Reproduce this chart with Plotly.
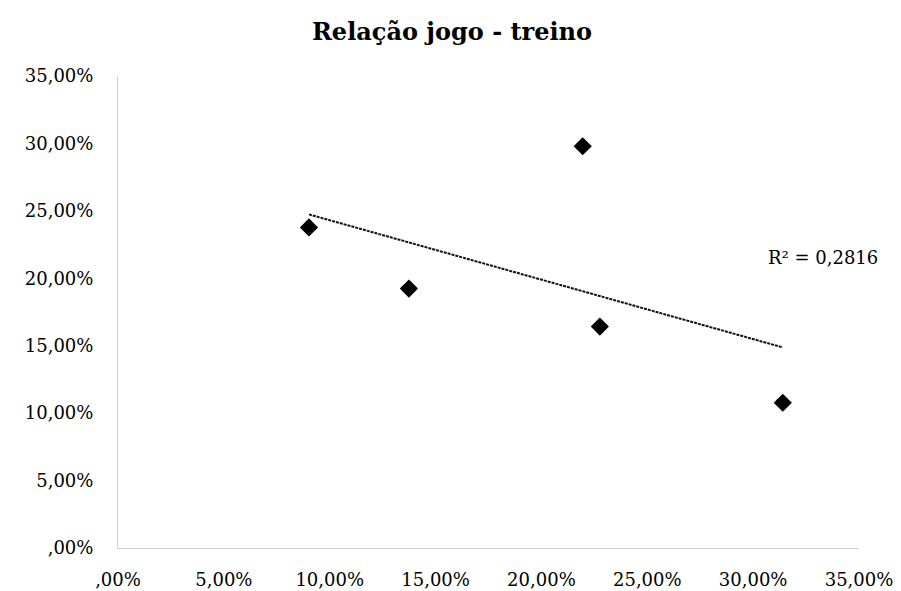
import numpy as np
import plotly.graph_objects as go

x_vals = [9.02, 13.74, 21.95, 22.76, 31.40]
y_vals = [23.77, 19.24, 29.79, 16.42, 10.77]
tick_vals = [0, 5, 10, 15, 20, 25, 30, 35]
tick_text = [",00%", "5,00%", "10,00%", "15,00%", "20,00%", "25,00%", "30,00%", "35,00%"]
title_text = "Relação jogo - treino"
r2_text = "R² = 0,2816"

FONT = "DejaVu Serif"

slope, intercept = np.polyfit(x_vals, y_vals, 1)
tx = [min(x_vals), max(x_vals)]
ty = [slope * v + intercept for v in tx]

fig = go.Figure()
fig.add_trace(go.Scatter(x=tx, y=ty, mode="lines",
                         line=dict(color="#111111", width=2, dash="3px,1px"),
                         showlegend=False, hoverinfo="skip"))
fig.add_trace(go.Scatter(x=x_vals, y=y_vals, mode="markers",
                         marker=dict(symbol="diamond", size=14, color="black"),
                         showlegend=False))

fig.add_annotation(x=36.0 / 35.0, y=21.55, xref="paper", yref="y", text=r2_text,
                   showarrow=False, xanchor="right", yanchor="middle",
                   font=dict(family=FONT, size=18, color="black"))

fig.update_layout(
    width=901, height=591,
    margin=dict(l=110, r=50, t=68, b=51),
    paper_bgcolor="white", plot_bgcolor="white",
    title=dict(text="<b>" + title_text + "</b>", x=444 / 901, xanchor="center",
               xref="container",
               y=1 - 24 / 591, yanchor="middle",
               font=dict(family=FONT, size=24, color="black")),
    xaxis=dict(range=[0, 35], tickvals=tick_vals, ticktext=tick_text,
               showgrid=False, zeroline=False, showline=True,
               linecolor="#d0d0d0", linewidth=1, ticks="",
               ticklabelstandoff=15, automargin=False,
               tickfont=dict(family=FONT, size=18, color="black")),
    yaxis=dict(range=[0, 35], tickvals=tick_vals, ticktext=tick_text,
               showgrid=False, zeroline=False, showline=True,
               linecolor="#d0d0d0", linewidth=1, ticks="",
               ticklabelstandoff=20, automargin=False,
               tickfont=dict(family=FONT, size=18, color="black")),
)

fig.write_html("out.html")
